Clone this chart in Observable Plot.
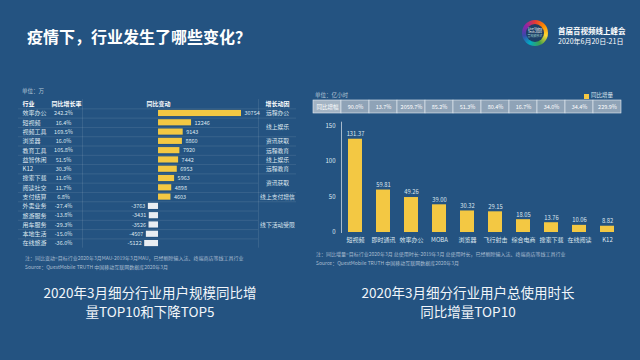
<!DOCTYPE html>
<html><head><meta charset="utf-8">
<script src="https://cdn.jsdelivr.net/npm/d3@7"></script>
<script src="https://cdn.jsdelivr.net/npm/@observablehq/plot@0.6"></script>
<style>
html,body{margin:0;padding:0;}
body{width:640px;height:360px;overflow:hidden;background:#245381;font-family:"Noto Sans CJK SC","Noto Sans",sans-serif;color:#fff;position:relative;}
.abs{position:absolute;white-space:nowrap;line-height:1;}
.note{font-size:5px;color:#aabdd0;}
svg{overflow:visible;}
</style></head><body>
<script>
// ---------- Data ----------
const industries = ["效率办公","短视频","视频工具","浏览器","教育工具","益智休闲","K12","搜索下载","阅读社交","支付结算","外卖业务","旅游服务","用车服务","本地生活","在线旅游"];
const growthRates = ["242.2%","16.4%","169.5%","16.0%","105.8%","51.5%","30.3%","11.6%","11.7%","6.8%","-27.4%","-13.8%","-29.3%","-15.0%","-36.0%"];
const changes = [30754,12246,9143,8860,7920,7442,6953,5963,4898,4603,-3763,-3431,-3526,-4507,-5122];
const motiveLabels = ["远程办公","线上娱乐","资讯获取","远程教育","线上娱乐","远程教育","资讯获取","线上支付增信","线下活动受限"];
const motiveFrom = [0,1,3,4,5,6,7,9,10];
const motiveTo   = [0,2,3,4,5,6,8,9,14];
const tableHeaders = ["行业","同比增长率","同比变动","增长动因"];

const categories = ["短视频","即时通讯","效率办公","MOBA","浏览器","飞行射击","综合电商","搜索下载","在线阅读","K12"];
const increments = [131.37,59.81,49.26,39.00,30.32,29.15,18.05,13.76,10.06,8.82];
const yoyLabel = "同比增幅";
const yoyPct = ["90.0%","13.7%","2059.7%","85.2%","51.3%","80.4%","16.7%","34.0%","34.4%","229.9%"];
const yTicks = [0,50,100,150];

const rows = industries.map((name,i)=>({i, name, rate: growthRates[i], change: changes[i]}));
const motives = motiveLabels.map((label,k)=>({label, from: motiveFrom[k], to: motiveTo[k]}));
const bars = categories.map((cat,i)=>({cat, value: increments[i]}));
const yoyRow = [{key: yoyLabel, text: yoyLabel, head: true}, ...categories.map((c,i)=>({key: c, text: yoyPct[i], head: false}))];

const YELLOW = "#f3c843";
const TXT = "#dfe7ef";
const FONT = '"Noto Sans CJK SC","Noto Sans",sans-serif';

function add(html, style){const d=document.createElement("div");d.className="abs";d.innerHTML=html;Object.assign(d.style,style);document.body.appendChild(d);return d;}
function place(node, left, top){node.style.position="absolute";node.style.left=left+"px";node.style.top=top+"px";document.body.appendChild(node);}

// ---------- Title & logo ----------
add("疫情下，行业发生了哪些变化？",{left:"27px",top:"28px",fontSize:"16px",fontWeight:"bold",color:"#fff"});
const ring = add("",{left:"522px",top:"20px",width:"26px",height:"26px",borderRadius:"50%",background:"conic-gradient(#e53935,#fb8c00,#fdd835,#43a047,#00acc1,#3949ab,#8e24aa,#e53935)"});
add('<div style="font-size:3px;line-height:3.4px;text-align:center;padding-top:4px;color:#fff">Live Video<br>Tech 2020<br><span style="color:#9cc">音视频技术</span></div>',{left:"526px",top:"24px",width:"18px",height:"18px",borderRadius:"50%",background:"#1d3f66"});
add("首届音视频线上峰会",{left:"558px",top:"27px",fontSize:"7.5px",fontWeight:"bold",color:"#fff"});
add("2020年6月20日-21日",{left:"558px",top:"38px",fontSize:"7px",color:"#fff"});

// ---------- Left table ----------
add("单位：万",{left:"22px",top:"89px",fontSize:"5.5px",color:"#b6c6d6"});
const xDomain = [-5122, 30754], xRange = [126.2, 223];
const xs = d3.scaleLinear().domain(xDomain).range(xRange);
const hdrY = [-1];
const left = Plot.plot({
  width: 280, height: 152, marginLeft: 0, marginRight: 0, marginTop: 0, marginBottom: 0,
  style: {background: "transparent", color: TXT, fontFamily: FONT, fontSize: "5.5px"},
  x: {domain: xDomain, range: xRange, axis: null},
  y: {domain: [-1.5, 14.5], range: [1.06, 149.7], axis: null},
  marks: [
    Plot.ruleY(d3.range(-0.5, 14, 1), {x1: xs.invert(0), x2: xs.invert(240), stroke: "#ffffff", strokeOpacity: 0.16, strokeWidth: 0.6}),
    Plot.ruleY([-0.5, ...motives.map(m=>m.to+0.5).slice(0,-1)], {x1: xs.invert(240), x2: xs.invert(278), stroke: "#ffffff", strokeOpacity: 0.16, strokeWidth: 0.6}),
    Plot.ruleX([xs.invert(64), xs.invert(240)], {y1: -1.5, y2: 14.5, stroke: "#ffffff", strokeOpacity: 0.16, strokeWidth: 0.6}),
    Plot.rectX(rows, {x1: 0, x2: "change", y1: d=>d.i-0.33, y2: d=>d.i+0.33, fill: d=>d.change>0?YELLOW:"#e9edf2"}),
    Plot.text(rows.filter(d=>d.change>0), {x: "change", y: "i", text: d=>String(d.change), dx: 3, textAnchor: "start", fill: TXT, fontSize: 5.5}),
    Plot.text(rows.filter(d=>d.change<0), {x: "change", y: "i", text: d=>String(d.change), dx: -3, textAnchor: "end", fill: TXT, fontSize: 5.5}),
    Plot.text(rows, {y: "i", text: "name", frameAnchor: "left", dx: 4, textAnchor: "start", fill: TXT, fontSize: 6}),
    Plot.text(rows, {y: "i", text: "rate", frameAnchor: "left", dx: 45, textAnchor: "middle", fill: TXT, fontSize: 5.5}),
    Plot.text(motives, {y: d=>(d.from+d.to)/2, text: "label", frameAnchor: "left", dx: 259, textAnchor: "middle", fill: TXT, fontSize: 5.8}),
    Plot.text(hdrY, {y: d=>d, text: ()=>tableHeaders[0], frameAnchor: "left", dx: 4, textAnchor: "start", fill: "#fff", fontSize: 6, fontWeight: "bold"}),
    Plot.text(hdrY, {y: d=>d, text: ()=>tableHeaders[1], frameAnchor: "left", dx: 48, textAnchor: "middle", fill: "#fff", fontSize: 6, fontWeight: "bold"}),
    Plot.text(hdrY, {y: d=>d, text: ()=>tableHeaders[2], frameAnchor: "left", dx: 140, textAnchor: "middle", fill: "#fff", fontSize: 6, fontWeight: "bold"}),
    Plot.text(hdrY, {y: d=>d, text: ()=>tableHeaders[3], frameAnchor: "left", dx: 259, textAnchor: "middle", fill: "#fff", fontSize: 6, fontWeight: "bold"})
  ]
});
place(left, 18, 98);
add("注：同比变动=目标行业2020年3月MAU-2019年3月MAU，已经剔除输入法、终端商店等线工具行业",{left:"25px",top:"254.5px"}).className+=" note";
add("Source：QuestMobile TRUTH 中国移动互联网数据库2020年3月",{left:"25px",top:"263.5px"}).className+=" note";

// ---------- Right chart ----------
add("单位：亿小时",{left:"315px",top:"93px",fontSize:"5.5px",color:"#b6c6d6"});
add("",{left:"584px",top:"93.5px",width:"5px",height:"5px",background:YELLOW});
add("同比增量",{left:"591px",top:"93px",fontSize:"5.5px",color:"#dfe7ef"});

const table = Plot.plot({
  width: 330, height: 13, marginLeft: 13, marginRight: 9, marginTop: 0, marginBottom: 0,
  style: {background: "transparent", color: "#fff", fontFamily: FONT, fontSize: "5.5px"},
  x: {domain: yoyRow.map(d=>d.key), padding: 0, axis: null},
  marks: [
    Plot.cell(yoyRow, {x: "key", fill: d=>d.head?"#a3b3c3":"#8fa3b7", stroke: "#e8eef4", strokeWidth: 0.6}),
    Plot.text(yoyRow, {x: "key", text: "text", fill: "#fff", fontSize: 5.5, frameAnchor: "middle"})
  ]
});
place(table, 300, 100);

const right = Plot.plot({
  width: 330, height: 162, marginLeft: 41, marginRight: 9, marginTop: 33.7, marginBottom: 18,
  style: {background: "transparent", color: TXT, fontFamily: FONT, fontSize: "6px"},
  x: {domain: categories, paddingInner: 0.5, paddingOuter: 0.25, label: null},
  y: {domain: [0, 150], range: [144, 37.5], label: null},
  marks: [
    Plot.frame({anchor: "left", stroke: "#c9d4df", strokeWidth: 0.8}),
    Plot.barY(bars, {x: "cat", y: "value", fill: YELLOW}),
    Plot.text(bars, {x: "cat", y: "value", text: d=>d.value.toFixed(2), dy: -5, fill: TXT, fontSize: 5.8}),
    Plot.axisY({ticks: yTicks, tickSize: 0, tickPadding: 6, fontSize: 6, label: null}),
    Plot.axisX({tickSize: 0, tickPadding: 5, fontSize: 6, label: null})
  ]
});
place(right, 300, 88);
add("注：同比增量=目标行业2020年3月 总使用时长-2019年3月 总使用时长，已经剔除输入法、终端商店等线工具行业",{left:"316px",top:"250.5px"}).className+=" note";
add("Source：QuestMobile TRUTH 中国移动互联网数据库2020年3月",{left:"316px",top:"259.5px"}).className+=" note";

// ---------- Captions ----------
add("2020年3月细分行业用户规模同比增<br>量TOP10和下降TOP5",{left:"0px",top:"282.5px",width:"300px",textAlign:"center",fontSize:"13.5px",lineHeight:"19px",color:"#f2f6fa"});
add("2020年3月细分行业用户总使用时长<br>同比增量TOP10",{left:"318px",top:"282.5px",width:"300px",textAlign:"center",fontSize:"13.5px",lineHeight:"19px",color:"#f2f6fa"});
</script>
</body></html>
